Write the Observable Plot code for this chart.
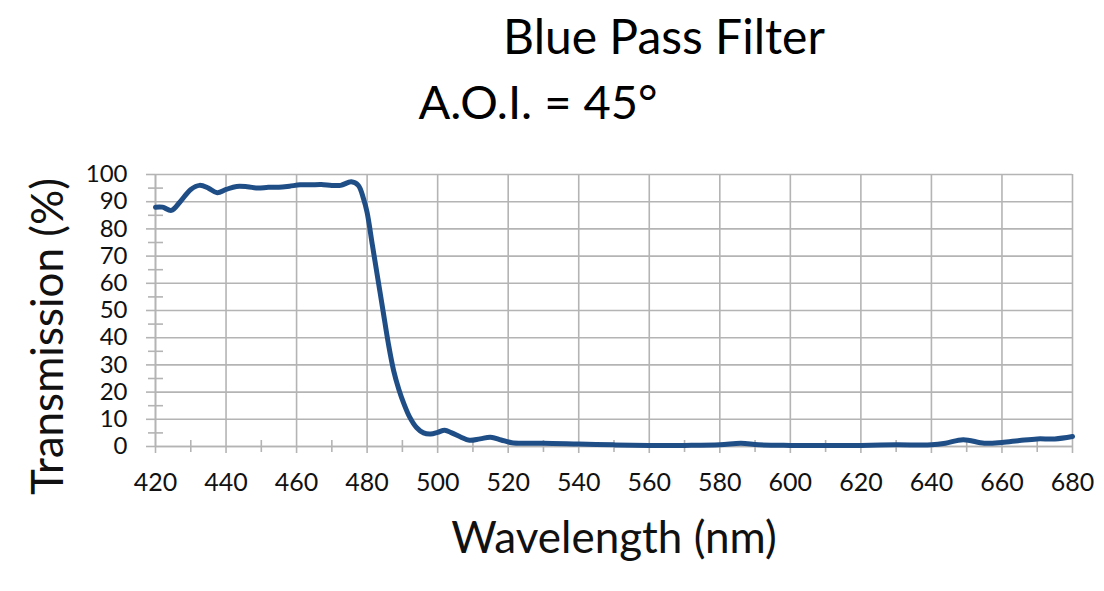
<!DOCTYPE html>
<html>
<head>
<meta charset="utf-8">
<script src="https://cdn.jsdelivr.net/npm/d3@7"></script>
<script src="https://cdn.jsdelivr.net/npm/@observablehq/plot@0.6"></script>
<style>
  html, body { margin: 0; padding: 0; background: #fff; }
  #wrap { width: 1104px; height: 591px; font-family: Lato, "Open Sans", sans-serif; color: #000; overflow: hidden; }
  #title { height: 72px; line-height: 72px; font-size: 48px; text-align: center; padding-left: 224px; box-sizing: border-box; width: 1104px; }
  #subtitle { height: 58px; line-height: 58px; font-size: 47px; text-align: center; padding-right: 28px; box-sizing: border-box; width: 1104px; }
</style>
</head>
<body>
<div id="wrap">
  <div id="title">Blue Pass Filter</div>
  <div id="subtitle">A.O.I. = 45°</div>
  <div id="chart"></div>
</div>
<script>
const wavelength = [420, 422, 424.5, 427, 430, 432.5, 435, 437.5, 440, 443, 446, 449, 452, 455, 458, 461, 464, 467, 470, 472.5, 475.5, 477.5, 479, 480, 481.5, 483, 484.5, 486, 487.5, 489, 490.5, 492, 494, 496, 498, 500, 502, 504, 506.5, 509, 512, 515, 518, 521, 525, 530, 540, 550, 560, 570, 580, 586, 591, 600, 610, 620, 630, 640, 644, 649, 655, 660, 665, 670, 675, 680];
const transmission = [88, 88, 86.8, 90, 94.5, 96, 95, 93.3, 94.5, 95.6, 95.5, 95, 95.3, 95.3, 95.7, 96.2, 96.2, 96.3, 96, 96, 97.3, 96, 91, 86, 74, 62, 50, 38, 28, 21, 15.5, 11, 7, 5, 4.6, 5.2, 6.0, 5.0, 3.5, 2.3, 2.8, 3.4, 2.4, 1.4, 1.2, 1.2, 0.9, 0.6, 0.4, 0.4, 0.6, 1.2, 0.6, 0.4, 0.4, 0.4, 0.6, 0.6, 1.2, 2.5, 1.2, 1.5, 2.2, 2.8, 2.8, 3.7];
const xTicks = [420, 440, 460, 480, 500, 520, 540, 560, 580, 600, 620, 640, 660, 680];
const xMinor = [430, 450, 470, 490, 510, 530, 550, 570, 590, 610, 630, 650, 670];
const yTicks = [0, 10, 20, 30, 40, 50, 60, 70, 80, 90, 100];
const yMinor = [5, 15, 25, 35, 45, 55, 65, 75, 85, 95];
const titleText = "Blue Pass Filter";
const subtitleText = "A.O.I. = 45°";
const xLabel = "Wavelength (nm)";
const yLabel = "Transmission (%)";

const data = wavelength.map((w, i) => ({w, t: transmission[i]}));
const grid = "#b4b4b4";

const chart = Plot.plot({
  width: 1104,
  height: 461,
  marginTop: 44,
  marginBottom: 145,
  marginLeft: 155,
  marginRight: 32,
  style: {fontFamily: "Lato, 'Open Sans', sans-serif", fontSize: "24px", color: "#000", background: "#fff"},
  x: {domain: [420, 680]},
  y: {domain: [0, 100]},
  marks: [
    Plot.gridX(xTicks, {stroke: grid, strokeOpacity: 1, strokeWidth: 1.6}),
    Plot.gridY(yTicks, {stroke: grid, strokeOpacity: 1, strokeWidth: 1.6}),
    Plot.axisY(yTicks, {anchor: "left", tickSize: 9, tickPadding: 19, stroke: grid, strokeWidth: 1.6, label: null, fill: "#111", fontSize: 24}),
    Plot.axisY(yMinor, {anchor: "left", tickSize: 15, dx: 8, stroke: grid, strokeWidth: 1.6, text: null, label: null}),
    Plot.axisX(xTicks, {anchor: "bottom", tickSize: 7, tickPadding: 20, stroke: grid, strokeWidth: 1.6, label: null, fill: "#111", fontSize: 25}),
    Plot.axisX(xMinor, {anchor: "bottom", tickSize: 12, dy: -6, stroke: grid, strokeWidth: 1.6, text: null, label: null}),
    Plot.ruleX([420], {stroke: grid, strokeWidth: 1.6}),
    Plot.ruleY([0], {stroke: grid, strokeWidth: 1.6}),
    Plot.line(data, {x: "w", y: "t", stroke: "#1f4e87", strokeWidth: 5, curve: "catmull-rom"}),
    Plot.text([yLabel], {frameAnchor: "left", textAnchor: "middle", rotate: -90, dx: -107, dy: 26, fontSize: 44, fill: "#111"}),
    Plot.text([xLabel], {frameAnchor: "bottom", textAnchor: "middle", dy: 106, fontSize: 44, fill: "#111"})
  ]
});
document.getElementById("chart").appendChild(chart);
</script>
</body>
</html>
